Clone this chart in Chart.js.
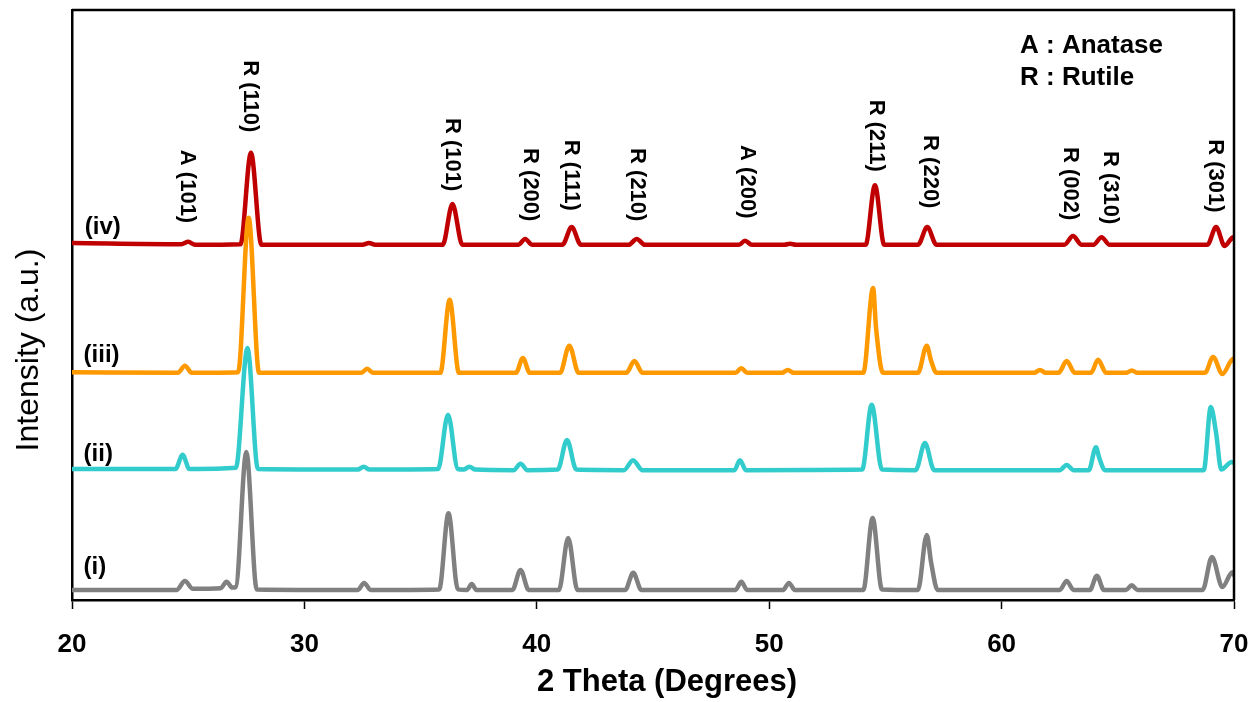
<!DOCTYPE html>
<html>
<head>
<meta charset="utf-8">
<script src="https://cdn.jsdelivr.net/npm/chart.js@4.4.1/dist/chart.umd.min.js"></script>
<style>
  html, body { margin: 0; padding: 0; background: #ffffff; }
  canvas { display: block; }
</style>
</head>
<body>
<canvas id="c" width="1252" height="702"></canvas>
<script>
// ---- Data (2θ in degrees, intensity in arbitrary units incl. vertical offset) ----
const seriesNames = ['(i)', '(ii)', '(iii)', '(iv)'];

const theta_i = [20, 24.5, 24.86, 25.2, 26.4, 26.65, 26.9, 27.05, 27.5, 27.95, 32.3, 32.57, 32.85, 35.8, 36.2, 36.6, 37.0, 37.2, 37.4, 38.95, 39.3, 39.65, 40.95, 41.35, 41.75, 43.8, 44.15, 44.5, 48.55, 48.8, 49.05, 50.6, 50.85, 51.1, 54.05, 54.45, 54.85, 56.4, 56.78, 56.97, 57.25, 62.5, 62.8, 63.1, 63.8, 64.1, 64.4, 65.35, 65.6, 65.85, 68.65, 69.05, 69.5, 69.93, 70];
const int_i   = [17, 17, 32, 19, 20, 31, 21, 22, 251, 18, 17, 29, 17, 18, 147, 18, 17, 27, 17, 17, 51, 17, 17, 105, 17, 17, 46, 17, 17, 31, 17, 17, 29, 17, 17, 139, 18, 17, 110, 63, 17, 17, 32, 17, 17, 41, 17, 17, 25, 17, 17, 73, 22, 47, 42];

const theta_ii = [20, 24.45, 24.76, 25.05, 27.05, 27.55, 28.0, 32.3, 32.55, 32.8, 35.75, 36.18, 36.6, 36.85, 37.1, 37.35, 39.0, 39.3, 39.6, 40.9, 41.3, 41.7, 43.75, 44.14, 44.55, 48.5, 48.74, 49.0, 54.0, 54.41, 54.85, 56.3, 56.7, 57.1, 62.5, 62.8, 63.1, 63.75, 64.06, 64.2, 64.45, 68.7, 69.0, 69.23, 69.45, 69.9, 70];
const int_ii   = [222, 222, 246, 222, 224, 427, 222, 221, 226, 221, 222, 314, 222, 221, 226, 221, 220, 231, 220, 221, 271, 221, 220, 237, 220, 220, 237, 220, 221, 331, 221, 220, 266, 220, 220, 229, 220, 220, 259, 241, 220, 220, 327, 283, 221, 234, 232];

const theta_iii = [20, 24.55, 24.86, 25.15, 27.15, 27.6, 28.05, 32.45, 32.7, 32.95, 35.85, 36.25, 36.65, 39.1, 39.4, 39.7, 41.0, 41.4, 41.8, 43.85, 44.2, 44.55, 48.55, 48.8, 49.05, 50.55, 50.8, 51.05, 54.05, 54.47, 54.6, 54.9, 56.4, 56.78, 56.97, 57.2, 61.4, 61.65, 61.9, 62.45, 62.8, 63.15, 63.85, 64.15, 64.5, 65.35, 65.6, 65.85, 68.75, 69.1, 69.5, 69.97, 70];
const int_iii   = [386, 385, 397, 385, 386, 648, 385, 385, 392, 385, 385, 509, 385, 385, 410, 385, 385, 431, 385, 385, 405, 385, 385, 393, 385, 385, 390, 385, 385, 529, 460, 385, 385, 431, 405, 385, 385, 390, 385, 385, 405, 385, 385, 407, 385, 385, 389, 385, 385, 412, 383, 409, 405];

const theta_iv = [20, 24.7, 25.0, 25.3, 27.25, 27.7, 28.15, 32.5, 32.78, 33.05, 35.95, 36.37, 36.8, 39.2, 39.5, 39.8, 41.1, 41.5, 41.9, 43.95, 44.3, 44.65, 48.7, 48.96, 49.25, 50.65, 50.9, 51.15, 54.15, 54.55, 54.95, 56.4, 56.8, 57.2, 62.7, 63.07, 63.45, 63.95, 64.3, 64.65, 68.85, 69.23, 69.6, 69.97, 70];
const int_iv   = [605, 603, 607, 602, 603, 758, 602, 602, 605, 602, 602, 671, 602, 602, 612, 602, 602, 632, 602, 602, 612, 602, 602, 609, 602, 602, 604, 602, 602, 703, 602, 602, 632, 602, 602, 617, 602, 602, 615, 602, 602, 632, 600, 615, 612];

const xTicks = [20, 30, 40, 50, 60, 70];

// Peak labels: text, 2θ position, intensity where the (rotated) text begins
const peakLabels = ['A (101)', 'R (110)', 'R (101)', 'R (200)', 'R (111)', 'R (210)', 'A (200)', 'R (211)', 'R (220)', 'R (002)', 'R (310)', 'R (301)'];
const peakLabelX = [24.95, 27.66, 36.35, 39.7, 41.47, 44.3, 49.04, 54.6, 56.92, 62.94, 64.66, 69.18];
const peakLabelY = [763, 915, 817, 766, 780, 766, 771, 848, 788, 768, 761, 781];

// Series labels positions (2θ, intensity)
const seriesLabelX = [20.5, 20.5, 20.5, 20.55];
const seriesLabelY = [56, 246, 414, 631];

const legendLines = ['A : Anatase', 'R : Rutile'];

// ---- Build datasets ----
const colors = ['#808080', '#33CCCC', '#FF9900', '#C00000'];
const xs = [theta_i, theta_ii, theta_iii, theta_iv];
const ys = [int_i, int_ii, int_iii, int_iv];

const datasets = seriesNames.map((name, k) => ({
  label: name,
  data: xs[k].map((x, j) => ({ x: x, y: ys[k][j] })),
  borderColor: colors[k],
  backgroundColor: colors[k],
  borderWidth: 4.5,
  pointRadius: 0,
  showLine: true,
  fill: false,
  cubicInterpolationMode: 'monotone',
  borderJoinStyle: 'round',
  borderCapStyle: 'round'
}));

const FONT = "'Liberation Sans', Arial, Helvetica, sans-serif";
Chart.defaults.font.family = FONT;
Chart.defaults.color = '#000000';

const annotatePlugin = {
  id: 'annotate',
  afterDraw(chart) {
    const ctx = chart.ctx;
    const xs = chart.scales.x, ys = chart.scales.y;
    const a = chart.chartArea;
    ctx.save();
    // frame top & right
    ctx.strokeStyle = '#000';
    ctx.lineWidth = 2.5;
    ctx.beginPath();
    ctx.moveTo(a.left, a.top);
    ctx.lineTo(a.right, a.top);
    ctx.lineTo(a.right, a.bottom);
    ctx.stroke();

    // peak labels (rotated, reading downward)
    ctx.fillStyle = '#000';
    ctx.font = 'bold 22px ' + FONT;
    ctx.textAlign = 'left';
    ctx.textBaseline = 'middle';
    peakLabels.forEach((t, i) => {
      const px = xs.getPixelForValue(peakLabelX[i]);
      const py = ys.getPixelForValue(peakLabelY[i]);
      ctx.save();
      ctx.translate(px, py);
      ctx.rotate(Math.PI / 2);
      ctx.fillText(t, 0, 0);
      ctx.restore();
    });

    // series labels
    ctx.font = 'bold 24px ' + FONT;
    seriesNames.forEach((t, i) => {
      ctx.fillText(t, xs.getPixelForValue(seriesLabelX[i]), ys.getPixelForValue(seriesLabelY[i]));
    });

    // legend text
    ctx.font = 'bold 26px ' + FONT;
    ctx.fillText(legendLines[0], 1020, 46);
    ctx.fillText(legendLines[1], 1020, 78);

    // x axis title
    ctx.font = 'bold 31px ' + FONT;
    ctx.textAlign = 'center';
    ctx.fillText('2 Theta (Degrees)', 667, 682);

    // y axis title
    ctx.font = '32px ' + FONT;
    ctx.save();
    ctx.translate(29, 350);
    ctx.rotate(-Math.PI / 2);
    ctx.fillText('Intensity (a.u.)', 0, 0);
    ctx.restore();

    ctx.restore();
  }
};

new Chart(document.getElementById('c'), {
  type: 'scatter',
  data: { datasets },
  options: {
    responsive: false,
    devicePixelRatio: 1,
    animation: false,
    layout: { padding: { left: 0, right: 18, top: 10, bottom: 0 } },
    plugins: { legend: { display: false }, tooltip: { enabled: false } },
    scales: {
      x: {
        type: 'linear',
        min: 20, max: 70,
        afterFit(scale) { scale.height = 102; scale.paddingRight = 0; scale.paddingLeft = 0; },
        afterBuildTicks(scale) { scale.ticks = xTicks.map(v => ({ value: v })); },
        ticks: { font: { size: 26, weight: 'bold' }, color: '#000', padding: 20, maxRotation: 0 },
        grid: { display: true, drawOnChartArea: false, drawTicks: true, tickLength: 9, tickColor: '#000', tickWidth: 1.5 },
        border: { display: true, color: '#000', width: 2.5 }
      },
      y: {
        type: 'linear',
        min: 0, max: 1000,
        afterFit(scale) { scale.width = 72; },
        ticks: { display: false },
        grid: { display: false, drawTicks: false },
        border: { display: true, color: '#000', width: 2.5 }
      }
    }
  },
  plugins: [annotatePlugin]
});
</script>
</body>
</html>
